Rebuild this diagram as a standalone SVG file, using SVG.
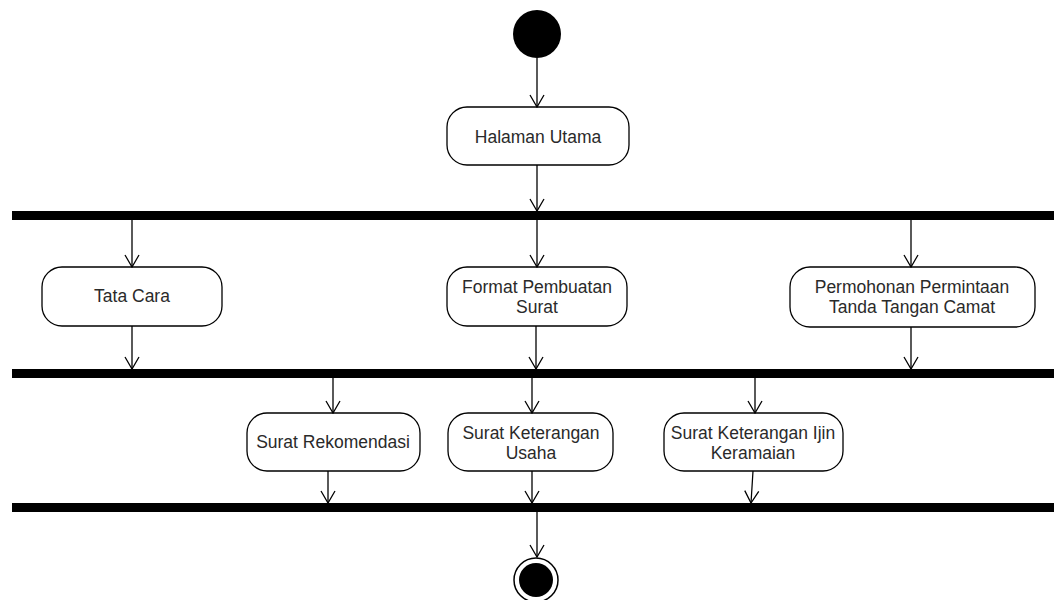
<svg xmlns="http://www.w3.org/2000/svg" width="1054" height="600" viewBox="0 0 1054 600">
<style>
.act{fill:#fff;stroke:#000;stroke-width:1.3}
.bar{fill:#000}
.lbl{font-family:"Liberation Sans",Arial,sans-serif;font-size:17.5px;fill:#2a2a2a;text-anchor:middle}
.c{fill:none;stroke:#000;stroke-width:1.3;marker-end:url(#ah)}
</style>
<defs>
<marker id="ah" markerWidth="14" markerHeight="18" refX="13" refY="9" orient="auto" markerUnits="userSpaceOnUse" viewBox="0 0 14 18">
<polyline points="1,2 13,9 1,16" fill="none" stroke="#000" stroke-width="1.3"/>
</marker>
</defs>
<rect width="1054" height="600" fill="#fff"/>
<g id="start"><circle cx="537" cy="34" r="24" fill="#000"/></g>
<g id="halaman"><rect class="act" x="447" y="107" width="182" height="58" rx="20"/><text class="lbl" x="538" y="143">Halaman Utama</text></g>
<g id="fork1"><rect class="bar" x="12" y="211" width="1042" height="9"/></g>
<g id="tatacara"><rect class="act" x="42" y="267" width="180" height="59" rx="20"/><text class="lbl" x="132" y="302">Tata Cara</text></g>
<g id="format"><rect class="act" x="447" y="267" width="180" height="59" rx="20"/><text class="lbl" x="537" y="293">Format Pembuatan</text><text class="lbl" x="537" y="313">Surat</text></g>
<g id="permohonan"><rect class="act" x="790" y="267" width="245" height="60" rx="20"/><text class="lbl" x="912" y="293">Permohonan Permintaan</text><text class="lbl" x="912" y="313">Tanda Tangan Camat</text></g>
<g id="join1"><rect class="bar" x="12" y="369" width="1042" height="9"/></g>
<g id="rekomendasi"><rect class="act" x="247" y="413" width="173" height="58" rx="20"/><text class="lbl" x="333" y="448">Surat Rekomendasi</text></g>
<g id="usaha"><rect class="act" x="448" y="413" width="165" height="58" rx="20"/><text class="lbl" x="531" y="439">Surat Keterangan</text><text class="lbl" x="531" y="459">Usaha</text></g>
<g id="keramaian"><rect class="act" x="664" y="413" width="179" height="58" rx="20"/><text class="lbl" x="753" y="439">Surat Keterangan Ijin</text><text class="lbl" x="753" y="459">Keramaian</text></g>
<g id="join2"><rect class="bar" x="12" y="503" width="1042" height="9"/></g>
<g id="end"><circle cx="536" cy="580" r="22" fill="#fff" stroke="#000" stroke-width="1.5"/><circle cx="536" cy="580" r="17" fill="#000"/></g>
<g id="connectors">
<path class="c" d="M537,58 V107"/>
<path class="c" d="M537,165 V211"/>
<path class="c" d="M132,220 V267"/>
<path class="c" d="M537,220 V267"/>
<path class="c" d="M911,220 V267"/>
<path class="c" d="M132,326 V369"/>
<path class="c" d="M536,326 V369"/>
<path class="c" d="M911,327 V369"/>
<path class="c" d="M333,378 V413"/>
<path class="c" d="M532,378 V413"/>
<path class="c" d="M755,378 V413"/>
<path class="c" d="M328,471 V503"/>
<path class="c" d="M532,471 V503"/>
<path class="c" d="M753,471 L751,503"/>
<path class="c" d="M537,512 V557"/>
</g>
</svg>
